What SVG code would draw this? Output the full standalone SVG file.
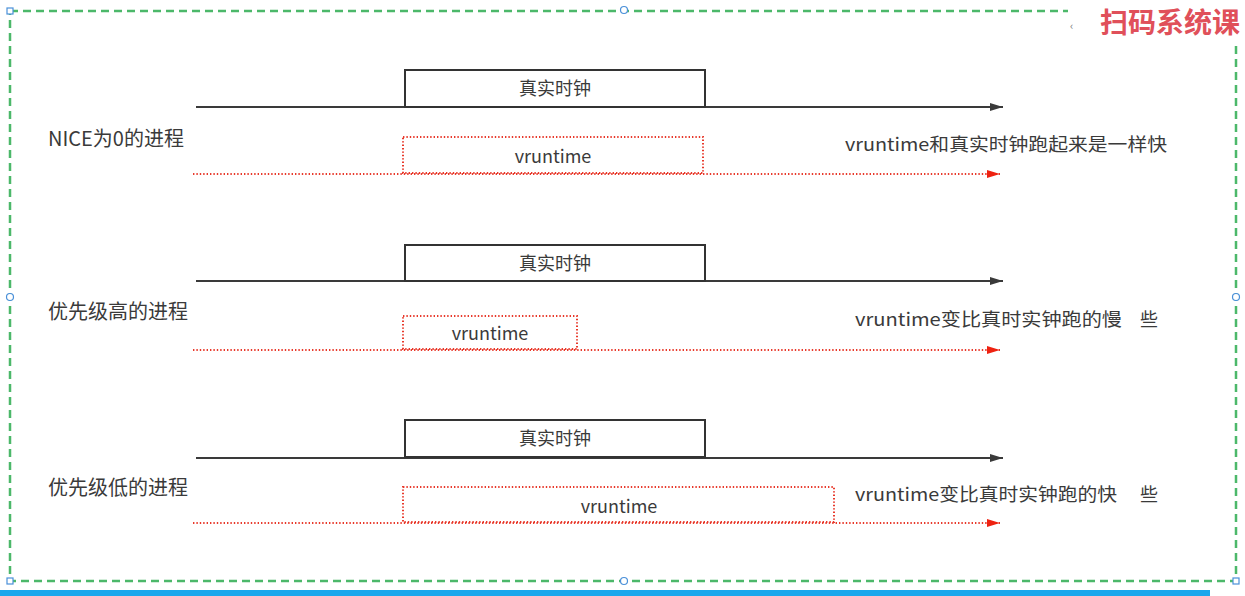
<svg xmlns="http://www.w3.org/2000/svg" width="1245" height="596" viewBox="0 0 1245 596">
<defs>
<style>
.t{font-family:"Noto Sans CJK SC","Liberation Sans",sans-serif;fill:#3a3a3a}
.lbl{font-size:18px}
.side{font-size:20px}
.box{fill:#fff;stroke:#333;stroke-width:2}
.vbox{fill:none;stroke:#e8392b;stroke-width:2;stroke-dasharray:1.4 2}
.clk{stroke:#3a3a3a;stroke-width:2;fill:none}
.vr{stroke:#e8392b;stroke-width:2;stroke-dasharray:1.4 2;fill:none}
.h{fill:#fff;stroke:#4a90d9;stroke-width:1.2}
</style>
<marker id="ab" markerWidth="14" markerHeight="10" refX="13" refY="5" orient="auto" markerUnits="userSpaceOnUse"><path d="M0,1 L13,5 L0,9 Z" fill="#3a3a3a"/></marker>
<marker id="ar" markerWidth="14" markerHeight="10" refX="13" refY="5" orient="auto" markerUnits="userSpaceOnUse"><path d="M0,1 L13,5 L0,9 Z" fill="#ee2211"/></marker>
</defs>
<rect width="1245" height="596" fill="#fff"/>
<g id="frame">
<rect x="10" y="11" width="1226" height="570" fill="none" stroke="#4cb86a" stroke-width="2.5" stroke-dasharray="8 5"/>
<rect x="7" y="8" width="6" height="6" class="h"/>
<rect x="7" y="578" width="6" height="6" class="h"/>
<rect x="1233" y="578" width="6" height="6" class="h"/>
<circle cx="624" cy="10" r="3.5" class="h"/>
<circle cx="10" cy="297" r="3.5" class="h"/>
<circle cx="1236" cy="297" r="3.5" class="h"/>
<circle cx="624" cy="581" r="3.5" class="h"/>
</g>
<rect x="1068" y="2" width="177" height="40" fill="#fff"/>
<text x="1070" y="30" class="t" style="font-size:11px;fill:#777">‹</text>
<text x="1100" y="33" class="t" style="font-size:28px;font-weight:bold;fill:#e0505a">扫码系统课</text>
<rect x="0" y="590" width="1210" height="6" fill="#1aa7ec"/>
<g id="connectors">
<line x1="196" y1="107" x2="1003" y2="107" class="clk" marker-end="url(#ab)"/>
<line x1="193" y1="174" x2="1000" y2="174" class="vr" marker-end="url(#ar)"/>
<line x1="196" y1="281" x2="1003" y2="281" class="clk" marker-end="url(#ab)"/>
<line x1="193" y1="350" x2="1000" y2="350" class="vr" marker-end="url(#ar)"/>
<line x1="196" y1="458" x2="1003" y2="458" class="clk" marker-end="url(#ab)"/>
<line x1="193" y1="523" x2="1000" y2="523" class="vr" marker-end="url(#ar)"/>
</g>
<g id="label1"><text x="48" y="146" class="t side">NICE为0的进程</text></g>
<g id="clock1"><rect x="405" y="70" width="300" height="37" class="box"/><text x="555" y="95" text-anchor="middle" class="t lbl">真实时钟</text></g>
<g id="vr1"><rect x="403" y="137" width="300" height="36" class="vbox"/><text x="553" y="163" text-anchor="middle" class="t lbl">vruntime</text></g>
<g id="note1"><text x="845" y="151" class="t lbl" textLength="322" lengthAdjust="spacingAndGlyphs">vruntime和真实时钟跑起来是一样快</text></g>
<g id="label2"><text x="48" y="319" class="t side">优先级高的进程</text></g>
<g id="clock2"><rect x="405" y="245" width="300" height="36" class="box"/><text x="555" y="270" text-anchor="middle" class="t lbl">真实时钟</text></g>
<g id="vr2"><rect x="403" y="316" width="174" height="33" class="vbox"/><text x="490" y="340" text-anchor="middle" class="t lbl">vruntime</text></g>
<g id="note2"><text x="855" y="326" class="t lbl" textLength="267" lengthAdjust="spacingAndGlyphs">vruntime变比真时实钟跑的慢</text><text x="1140" y="326" class="t lbl">些</text></g>
<g id="label3"><text x="48" y="495" class="t side">优先级低的进程</text></g>
<g id="clock3"><rect x="405" y="420" width="300" height="37" class="box"/><text x="555" y="445" text-anchor="middle" class="t lbl">真实时钟</text></g>
<g id="vr3"><rect x="403" y="487" width="431" height="35" class="vbox"/><text x="619" y="513" text-anchor="middle" class="t lbl">vruntime</text></g>
<g id="note3"><text x="855" y="501" class="t lbl" textLength="262" lengthAdjust="spacingAndGlyphs">vruntime变比真时实钟跑的快</text><text x="1140" y="501" class="t lbl">些</text></g>
</svg>
